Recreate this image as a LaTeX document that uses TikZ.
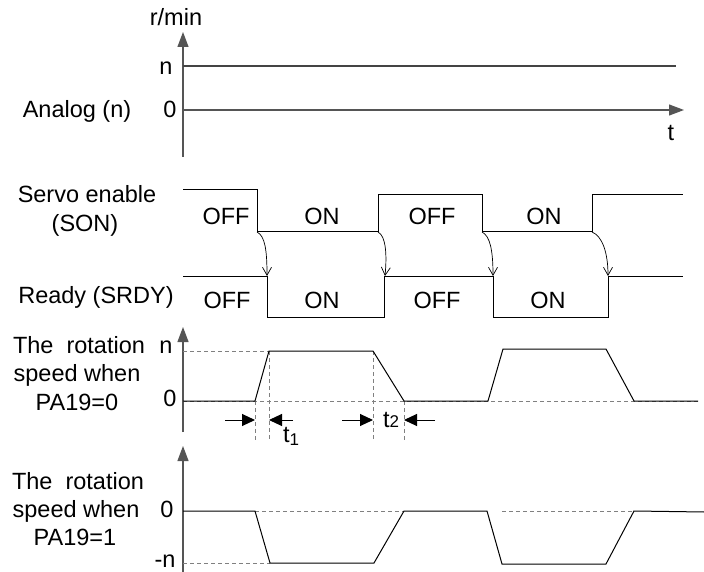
\documentclass[tikz,border=0pt]{standalone}
\usepackage{fontspec}
\setmainfont{Liberation Sans}
\usetikzlibrary{arrows.meta}
\definecolor{axgray}{HTML}{555555}
\definecolor{lngray}{HTML}{444444}
\definecolor{dshgray}{HTML}{808080}
\begin{document}
\begin{tikzpicture}[x=1pt,y=-1pt,
  font=\fontsize{23.5}{28}\selectfont,
  lbl/.style={inner sep=0pt, anchor=base},
  axis/.style={draw=axgray, line width=1.2pt, -{Triangle[length=15pt,width=11pt]}},
  sig/.style={draw=black, line width=1pt},
  topln/.style={draw=lngray, line width=1.1pt},
  guide/.style={draw=dshgray, line width=0.9pt, dash pattern=on 4pt off 3pt},
  dly/.style={draw=black, line width=0.7pt, -{Straight Barb[length=8pt,width=9pt]}},
  tarr/.style={draw=black, line width=1pt, -{Triangle[length=13pt,width=12pt]}}]
\useasboundingbox (0,0) rectangle (704,572);

% ---------- panel 1: analog ----------
\coordinate (a1b) at (183,157); \coordinate (a1t) at (183,32);
\draw[axis] (a1b) -- (a1t);
\coordinate (z1l) at (183,110); \coordinate (z1r) at (684,110);
\draw[axis] (z1l) -- (z1r);
\coordinate (n1l) at (183,66); \coordinate (n1r) at (676,66);
\draw[topln] (n1l) -- (n1r);
\node[lbl] (rmin) at (176,26) {r/min};
\node[lbl] (n1lab) at (166,75) {n};
\node[lbl] (z1lab) at (170,118) {0};
\node[lbl] (analog) at (77,118) {Analog (n)};
\node[lbl] (tlab) at (671,141) {t};

% ---------- panel 2: SON / SRDY ----------
\draw[sig] (183,190) -- (257,190) -- (257,232) -- (378,232) -- (378,195)
  -- (482,195) -- (482,232) -- (592,232) -- (592,195) -- (683,195);
\draw[sig] (183,276) -- (267,276) -- (267,317) -- (384,317) -- (384,276)
  -- (493,276) -- (493,317) -- (608,317) -- (608,276) -- (683,276);
\coordinate (s1) at (257,232); \coordinate (r1) at (267,276);
\coordinate (s2) at (378,232); \coordinate (r2) at (385,276);
\coordinate (s3) at (482,232); \coordinate (r3) at (493,276);
\coordinate (s4) at (592,232); \coordinate (r4) at (608,276);
\draw[dly] (s1) .. controls (265,236) and (267,250) .. (r1);
\draw[dly] (s2) .. controls (386,236) and (387,255) .. (r2);
\draw[dly] (s3) .. controls (490,236) and (493,250) .. (r3);
\draw[dly] (s4) .. controls (602,236) and (608,252) .. (r4);
\node[lbl] (servo) at (87,203) {Servo enable};
\node[lbl] (son) at (85,232) {(SON)};
\node[lbl] (ready) at (96,303) {Ready (SRDY)};
\node[lbl] (so1) at (226,225) {OFF};
\node[lbl] (so2) at (322,225) {ON};
\node[lbl] (so3) at (432,225) {OFF};
\node[lbl] (so4) at (544,225) {ON};
\node[lbl] (ro1) at (227,308) {OFF};
\node[lbl] (ro2) at (322,308) {ON};
\node[lbl] (ro3) at (437,308) {OFF};
\node[lbl] (ro4) at (548,308) {ON};

% ---------- panel 3: PA19=0 ----------
\coordinate (a3b) at (183,432); \coordinate (a3t) at (183,327);
\draw[axis] (a3b) -- (a3t);
\draw[guide] (183,351) -- (269,351);
\draw[guide] (183,401) -- (698,401);
\draw[guide] (255,401) -- (255,440);
\draw[guide] (269,351) -- (269,440);
\draw[guide] (373,351) -- (373,440);
\draw[guide] (404,401) -- (404,440);
\draw[sig] (183,401) -- (255,401) -- (269,351) -- (373,351) -- (404,401)
  -- (488,401) -- (503,349) -- (606,349) -- (634,401) -- (698,401);
\coordinate (t1a) at (225,420); \coordinate (t1b) at (255,420);
\coordinate (t1c) at (293,420); \coordinate (t1d) at (269,420);
\coordinate (t2a) at (342,420); \coordinate (t2b) at (373,420);
\coordinate (t2c) at (435,420); \coordinate (t2d) at (404,420);
\draw[tarr] (t1a) -- (t1b);
\draw[tarr] (t1c) -- (t1d);
\draw[tarr] (t2a) -- (t2b);
\draw[tarr] (t2c) -- (t2d);
\node[lbl, anchor=base west] (t1lab) at (283,442) {t\raisebox{-3pt}{\fontsize{17}{17}\selectfont 1}};
\node[lbl, anchor=base west] (t2lab) at (383,427) {t{\fontsize{17}{17}\selectfont 2}};
\node[lbl] (p3a) at (79,353) {The\ \ rotation};
\node[lbl] (p3b) at (77,381) {speed when};
\node[lbl] (p3c) at (77,410) {PA19=0};
\node[lbl] (n3lab) at (166,353) {n};
\node[lbl] (z3lab) at (170,406) {0};

% ---------- panel 4: PA19=1 ----------
\coordinate (a4b) at (183,572); \coordinate (a4t) at (183,446);
\draw[axis] (a4b) -- (a4t);
\draw[guide] (183,563) -- (270,563);
\draw[guide] (255,511) -- (404,511);
\draw[guide] (502,511) -- (634,511);
\draw[sig] (183,511) -- (255,511) -- (270,563) -- (374,563) -- (404,511)
  -- (487,511) -- (502,564) -- (606,564) -- (634,511) -- (704,512);
\node[lbl] (p4a) at (78,489) {The\ \ rotation};
\node[lbl] (p4b) at (76,517) {speed when};
\node[lbl] (p4c) at (75,545) {PA19=1};
\node[lbl] (z4lab) at (167,517) {0};
\node[lbl] (n4lab) at (165,567) {-n};
\end{tikzpicture}
\end{document}
